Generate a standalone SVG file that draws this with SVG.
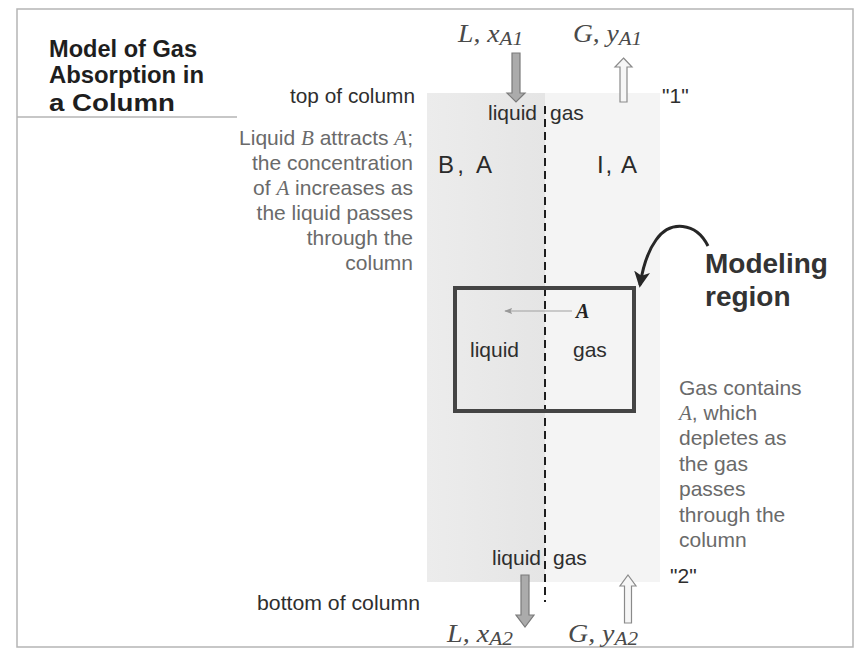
<svg xmlns="http://www.w3.org/2000/svg" width="861" height="651" viewBox="0 0 861 651">
<defs>
<marker id="curveHead" viewBox="0 0 12 12" refX="10" refY="6" markerWidth="16" markerHeight="16" markerUnits="userSpaceOnUse" orient="auto">
<path d="M0,0 L12,6 L0,12 L3,6 z" fill="#262626"/>
</marker>
<marker id="smallHead" viewBox="0 0 10 10" refX="9" refY="5" markerWidth="8" markerHeight="8" markerUnits="userSpaceOnUse" orient="auto">
<path d="M0,1 L10,5 L0,9 L2,5 z" fill="#999"/>
</marker>
<linearGradient id="liqShade" x1="0" y1="0" x2="1" y2="0">
<stop offset="0" stop-color="#ececec"/>
<stop offset="1" stop-color="#e5e5e5"/>
</linearGradient>
</defs>
<style>
.sans{font-family:"Liberation Sans",Arial,Helvetica,sans-serif}
.title{font-size:23px;font-weight:bold;fill:#1e1e1e}
.body{font-size:21px;fill:#2e2e2e}
.note{font-size:21px;fill:#6a6a6a}
.big{font-size:24px;fill:#2a2a2a}
.model{font-size:28px;font-weight:bold;fill:#333}
.math{font-family:"Liberation Serif","Times New Roman",serif;font-style:italic;font-size:25px;fill:#4a4a4a}
.sub{font-size:19px}
.it{font-family:"Liberation Serif","Times New Roman",serif;font-style:italic}
.frame{fill:none;stroke:#b5b5b5;stroke-width:1.5}
.liqArrow{fill:#ababab;stroke:#7a7a7a;stroke-width:1.2}
.gasArrow{fill:#f6f6f6;stroke:#8a8a8a;stroke-width:1.2}
</style>
<rect width="861" height="651" fill="#ffffff"/>
<g id="frame">
<rect class="frame" x="17" y="9" width="836" height="638"/>
<line class="frame" x1="17" y1="117" x2="237" y2="117"/>
</g>
<g id="title" class="sans title">
<text x="49" y="57" textLength="148" lengthAdjust="spacingAndGlyphs">Model of Gas</text>
<text x="49" y="83" textLength="155" lengthAdjust="spacingAndGlyphs">Absorption in</text>
<text x="49" y="111" textLength="126" lengthAdjust="spacingAndGlyphs">a Column</text>
</g>
<g id="column">
<rect x="427" y="93" width="118" height="489" fill="url(#liqShade)"/>
<rect x="545" y="93" width="115" height="489" fill="#f4f4f4"/>
</g>
<g id="connectors">
<line x1="545" y1="106" x2="545" y2="602" stroke="#1e1e1e" stroke-width="2" stroke-dasharray="8,5"/>
<path d="M512,53 H520 V93 H525 L516,102 L507,93 H512 Z" class="liqArrow"/>
<path d="M623.5,58 L632,67 H627 V102 H620 V67 H615 Z" class="gasArrow"/>
<path d="M521,575 H529 V615 H534 L525,627 L516,615 H521 Z" class="liqArrow"/>
<path d="M628,575 L636,586 H631.5 V623 H624.5 V586 H620 Z" class="gasArrow"/>
<path d="M708,246 C696,222 670,220 656,240 C648,251 643,266 640,285" fill="none" stroke="#262626" stroke-width="3" marker-end="url(#curveHead)"/>
<line x1="572" y1="311" x2="505" y2="311" stroke="#a0a0a0" stroke-width="1" marker-end="url(#smallHead)"/>
</g>
<g id="top-labels">
<text class="math" x="458" y="42" textLength="65" lengthAdjust="spacingAndGlyphs">L, x<tspan class="sub" dy="3">A1</tspan></text>
<text class="math" x="573" y="42" textLength="69" lengthAdjust="spacingAndGlyphs">G, y<tspan class="sub" dy="3">A1</tspan></text>
<text class="sans body" x="290" y="103" textLength="125" lengthAdjust="spacingAndGlyphs">top of column</text>
<text class="sans body" x="662" y="103">"1"</text>
<text class="sans body" x="488" y="120" font-size="20">liquid</text>
<text class="sans body" x="550" y="120" font-size="20">gas</text>
</g>
<g id="phase-labels" class="sans big">
<text x="438" y="173" textLength="54" lengthAdjust="spacing">B, A</text>
<text x="597" y="173" textLength="40" lengthAdjust="spacing">I, A</text>
</g>
<g id="liquid-note" class="sans note" text-anchor="end">
<text x="413" y="145">Liquid <tspan class="it">B</tspan> attracts <tspan class="it">A</tspan>;</text>
<text x="413" y="170">the concentration</text>
<text x="413" y="195">of <tspan class="it">A</tspan> increases as</text>
<text x="413" y="220">the liquid passes</text>
<text x="413" y="245">through the</text>
<text x="413" y="270">column</text>
</g>
<g id="modeling-box">
<rect x="455" y="288" width="179" height="123" fill="none" stroke="#444" stroke-width="4"/>
<text x="576" y="318" font-family="Liberation Serif,Times New Roman,serif" font-style="italic" font-weight="bold" font-size="20" fill="#222">A</text>
<text class="sans body" x="470" y="357" fill="#444">liquid</text>
<text class="sans body" x="573" y="357" fill="#444">gas</text>
</g>
<g id="modeling-label" class="sans model">
<text x="705" y="273">Modeling</text>
<text x="705" y="306">region</text>
</g>
<g id="gas-note" class="sans note">
<text x="679" y="395">Gas contains</text>
<text x="679" y="420"><tspan class="it">A</tspan>, which</text>
<text x="679" y="445">depletes as</text>
<text x="679" y="471">the gas</text>
<text x="679" y="496">passes</text>
<text x="679" y="522">through the</text>
<text x="679" y="547">column</text>
</g>
<g id="bottom-labels">
<text class="sans body" x="670" y="583">"2"</text>
<text class="sans body" x="492" y="565" font-size="20">liquid</text>
<text class="sans body" x="553" y="565" font-size="20">gas</text>
<text class="sans body" x="257" y="610" textLength="163" lengthAdjust="spacingAndGlyphs">bottom of column</text>
<text class="math" x="447" y="642" textLength="66" lengthAdjust="spacingAndGlyphs">L, x<tspan class="sub" dy="3">A2</tspan></text>
<text class="math" x="568" y="642" textLength="70" lengthAdjust="spacingAndGlyphs">G, y<tspan class="sub" dy="3">A2</tspan></text>
</g>
</svg>
